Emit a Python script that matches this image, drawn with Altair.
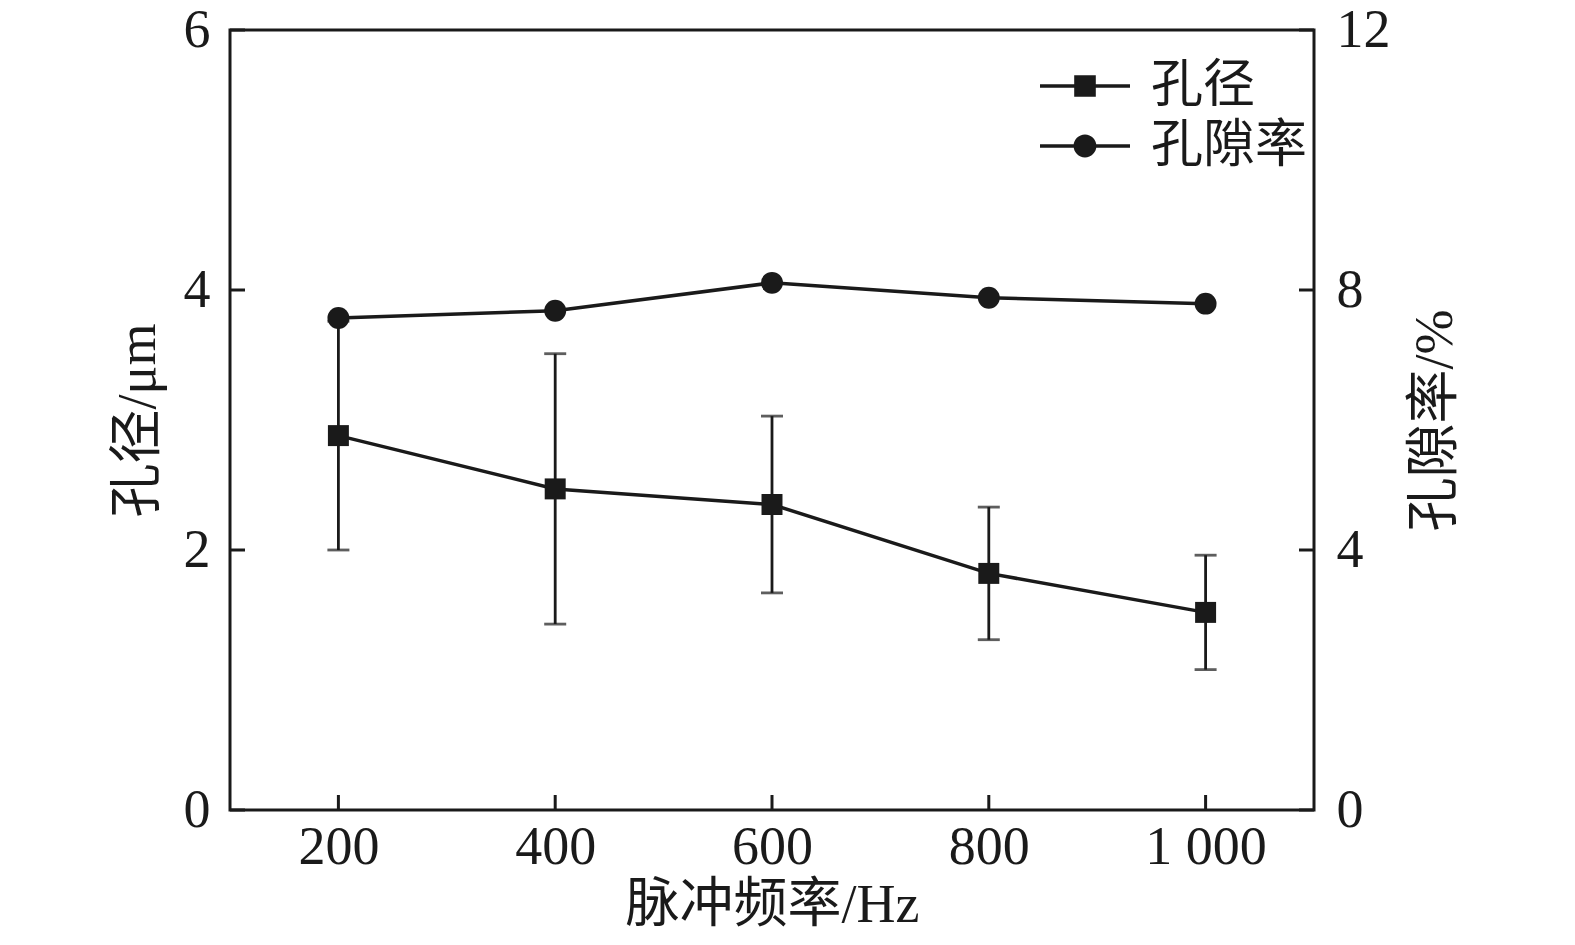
import altair as alt
import pandas as pd

freq = [200, 400, 600, 800, 1000]
diameter = [2.88, 2.47, 2.35, 1.82, 1.52]
diameter_err = [0.88, 1.04, 0.68, 0.51, 0.44]
porosity = [7.57, 7.68, 8.11, 7.88, 7.79]
series_names = ["孔径", "孔隙率"]
left_ticks = [0, 2, 4, 6]
right_ticks = [0, 4, 8, 12]

W, H = 1084, 780
INK = "#1a1a1a"
SERIF = "Liberation Serif, Noto Sans CJK SC"
TICK_LEN = 15
FS = 54

df = pd.DataFrame({
    "freq": freq,
    "d": diameter,
    "lo": [v - e for v, e in zip(diameter, diameter_err)],
    "hi": [v + e for v, e in zip(diameter, diameter_err)],
    "p": porosity,
})

xscale = alt.Scale(domain=[100, 1100])
xaxis = alt.Axis(
    values=freq, labelExpr="datum.value == 1000 ? '1 000' : datum.label",
    title="脉冲频率/Hz", grid=False, ticks=False, tickSize=0, domain=False,
    labelFont="Liberation Serif", labelFontSize=FS, labelColor=INK, labelPadding=10,
    titleFont=SERIF, titleFontSize=FS, titleFontWeight="normal", titleColor=INK, titlePadding=4,
)
yl_scale = alt.Scale(domain=[0, 6])
yl_axis = alt.Axis(
    values=left_ticks, format="d", title="孔径/μm", grid=False, ticks=False, tickSize=0,
    domain=False,
    labelFont="Liberation Serif", labelFontSize=FS, labelColor=INK, labelPadding=20,
    titleFont=SERIF, titleFontSize=FS, titleFontWeight="normal", titleColor=INK, titlePadding=18,
)
yr_scale = alt.Scale(domain=[0, 12])
yr_axis = alt.Axis(
    values=right_ticks, format="d", orient="right", title="孔隙率/%", titleAngle=270,
    titleBaseline="top",
    grid=False, ticks=False, tickSize=0, domain=False,
    labelFont="Liberation Serif", labelFontSize=FS, labelColor=INK, labelPadding=22,
    titleFont=SERIF, titleFontSize=FS, titleFontWeight="normal", titleColor=INK, titlePadding=18,
)

base = alt.Chart(df)
X = alt.X("freq:Q", scale=xscale, axis=xaxis)

err_rule = base.mark_rule(color=INK, strokeWidth=2.8).encode(
    x=X, y=alt.Y("lo:Q", scale=yl_scale, axis=yl_axis), y2="hi:Q")
cap_lo = base.mark_tick(color=INK, orient="horizontal", size=22, thickness=2.8).encode(
    x="freq:Q", y=alt.Y("lo:Q", scale=yl_scale))
cap_hi = base.mark_tick(color=INK, orient="horizontal", size=22, thickness=2.8).encode(
    x="freq:Q", y=alt.Y("hi:Q", scale=yl_scale))
d_line = base.mark_line(color=INK, strokeWidth=3.5).encode(
    x="freq:Q", y=alt.Y("d:Q", scale=yl_scale))
d_pts = base.mark_point(shape="square", filled=True, color=INK, size=440, opacity=1).encode(
    x="freq:Q", y=alt.Y("d:Q", scale=yl_scale))

ltick_df = pd.DataFrame({"t": left_ticks})
lticks = alt.Chart(ltick_df).mark_rule(color=INK, strokeWidth=3).encode(
    y=alt.Y("t:Q", scale=yl_scale), x=alt.value(0), x2=alt.value(TICK_LEN))
btick_df = pd.DataFrame({"f": freq})
bticks = alt.Chart(btick_df).mark_rule(color=INK, strokeWidth=3).encode(
    x=alt.X("f:Q", scale=xscale), y=alt.value(H), y2=alt.value(H - TICK_LEN))

left = alt.layer(err_rule, cap_lo, cap_hi, d_line, d_pts, lticks, bticks)

p_line = base.mark_line(color=INK, strokeWidth=3.5).encode(
    x="freq:Q", y=alt.Y("p:Q", scale=yr_scale, axis=yr_axis))
p_pts = base.mark_point(shape="circle", filled=True, color=INK, size=480, opacity=1).encode(
    x="freq:Q", y=alt.Y("p:Q", scale=yr_scale))
rtick_df = pd.DataFrame({"t": right_ticks})
rticks = alt.Chart(rtick_df).mark_rule(color=INK, strokeWidth=3).encode(
    y=alt.Y("t:Q", scale=yr_scale), x=alt.value(W - TICK_LEN), x2=alt.value(W))
right = alt.layer(p_line, p_pts, rticks)

# legend symbols: line through a marker, in units of sqrt(size)/2 = 30 px
sq_path = "M-1.5,-0.06H1.5V0.06H-1.5Z M-0.36,-0.36H0.36V0.36H-0.36Z"
ci_path = ("M-1.5,-0.06H1.5V0.06H-1.5Z M-0.38,0 A0.38,0.38 0 1,1 0.38,0 "
           "A0.38,0.38 0 1,1 -0.38,0 Z")
leg_df = pd.DataFrame({"series": series_names})
legend_layer = alt.Chart(leg_df).mark_point(
    filled=True, opacity=0, size=3600, color=INK, fill=INK).encode(
    x=alt.value(0), y=alt.value(0),
    shape=alt.Shape("series:N", scale=alt.Scale(domain=series_names, range=[sq_path, ci_path]),
                    legend=alt.Legend(
                        title=None, orient="none", legendX=825, legendY=26,
                        symbolOpacity=1, symbolFillColor=INK, symbolStrokeColor=INK,
                        symbolStrokeWidth=0,
                        symbolSize=3600, labelFont="Noto Sans CJK SC", labelFontSize=52,
                        labelColor=INK, labelOffset=36, rowPadding=4, labelLimit=400)),
)

chart = alt.layer(left, right, legend_layer).resolve_scale(y="independent").properties(
    width=W, height=H, autosize=alt.AutoSizeParams(type="none"),
    padding={"left": 222, "top": 22, "right": 250, "bottom": 135},
    background="white",
).configure_view(stroke=INK, strokeWidth=3)

chart.save("out.html", embed_options={"renderer": "svg", "actions": False})
